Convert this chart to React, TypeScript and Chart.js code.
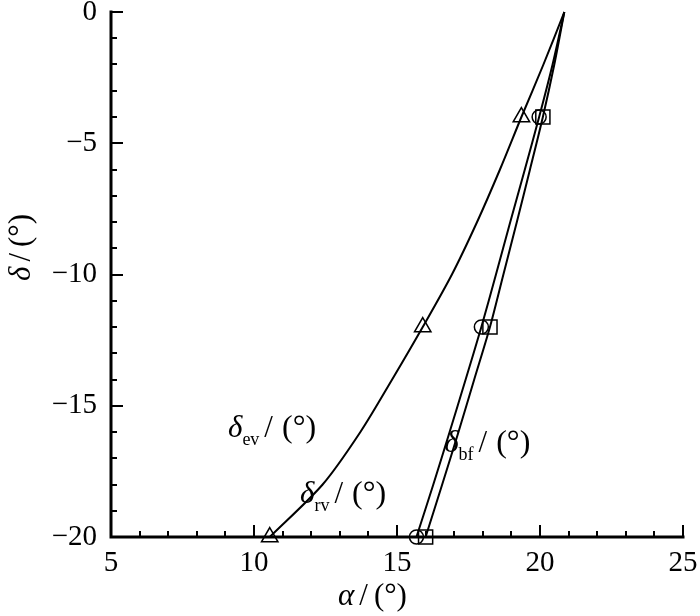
import React, { useEffect, useRef } from "react";
import { Chart, registerables } from "chart.js";

Chart.register(...registerables);

// δ levels (y) at which each curve is sampled
const deltaLevels = [0, -2, -4, -6, -8, -10, -12, -14, -16, -18, -20];
// α values (x) of each curve at those levels
const alphaEv = [20.85, 20.12, 19.35, 18.6, 17.8, 16.92, 15.9, 14.83, 13.72, 12.4, 10.55];
const alphaBf = [20.85, 20.44, 19.97, 19.47, 18.96, 18.46, 17.95, 17.4, 16.84, 16.27, 15.68];
const alphaRv = [20.85, 20.5, 20.1, 19.65, 19.19, 18.72, 18.25, 17.7, 17.15, 16.58, 16.0];
// δ levels where markers are drawn
const markerLevels = [-4, -12, -20];

const xMin = 5;
const xMax = 25;
const yMin = -20;
const yMax = 0;
const majorStep = 5;
const minorStep = 1;

// in-plot curve labels (data coordinates of the start of the δ glyph baseline)
const curveLabels = [
  { sub: "ev", x: 9.09, y: -16.19 },
  { sub: "rv", x: 11.61, y: -18.7 },
  { sub: "bf", x: 16.65, y: -16.76 },
];

const SERIF = "'Liberation Serif', 'DejaVu Serif', serif";

type Part = { text: string; font: string; dy?: number; gap?: number };

function drawParts(ctx: CanvasRenderingContext2D, x: number, y: number, parts: Part[]) {
  let cx = x;
  for (const p of parts) {
    cx += p.gap || 0;
    ctx.font = p.font;
    ctx.fillText(p.text, cx, y + (p.dy || 0));
    cx += ctx.measureText(p.text).width;
  }
}

const decorPlugin = {
  id: "decor",
  afterDatasetsDraw(chart: any) {
    const { ctx, chartArea: a, scales } = chart;
    const xs = scales.x;
    const ys = scales.y;
    ctx.save();
    ctx.strokeStyle = "#000";
    ctx.fillStyle = "#000";
    // spines
    ctx.lineWidth = 3;
    ctx.lineCap = "square";
    ctx.beginPath();
    ctx.moveTo(a.left, a.top);
    ctx.lineTo(a.left, a.bottom);
    ctx.lineTo(a.right, a.bottom);
    ctx.stroke();
    // inward ticks
    ctx.lineCap = "butt";
    ctx.lineWidth = 2;
    for (let v = xs.min; v <= xs.max + 1e-9; v += minorStep) {
      const len = Math.abs(v % majorStep) < 1e-9 ? 12 : 6;
      const px = Math.round(xs.getPixelForValue(v));
      ctx.beginPath();
      ctx.moveTo(px, a.bottom);
      ctx.lineTo(px, a.bottom - len);
      ctx.stroke();
    }
    for (let v = ys.min; v <= ys.max + 1e-9; v += minorStep) {
      const len = Math.abs(v % majorStep) < 1e-9 ? 12 : 6;
      const py = Math.round(ys.getPixelForValue(v));
      ctx.beginPath();
      ctx.moveTo(a.left, py);
      ctx.lineTo(a.left + len, py);
      ctx.stroke();
    }

    ctx.textBaseline = "alphabetic";
    ctx.textAlign = "left";
    // curve labels
    for (const l of curveLabels) {
      const px = xs.getPixelForValue(l.x);
      const py = ys.getPixelForValue(l.y);
      drawParts(ctx, px, py, [
        { text: "δ", font: `italic 31px ${SERIF}` },
        { text: l.sub, font: `18px ${SERIF}`, dy: 8, gap: 0 },
        { text: "/", font: `31px ${SERIF}`, gap: 5 },
        { text: "(°)", font: `32px ${SERIF}`, gap: 9 },
      ]);
    }

    // x axis title
    drawParts(ctx, 338, 605, [
      { text: "α", font: `italic 31px ${SERIF}` },
      { text: "/", font: `31px ${SERIF}`, gap: 5 },
      { text: "(°)", font: `31px ${SERIF}`, gap: 6 },
    ]);

    // y axis title (rotated)
    ctx.save();
    ctx.translate(30, 281);
    ctx.rotate(-Math.PI / 2);
    drawParts(ctx, 0, 0, [
      { text: "δ", font: `italic 31px ${SERIF}` },
      { text: "/", font: `31px ${SERIF}`, gap: 5 },
      { text: "(°)", font: `31px ${SERIF}`, gap: 6 },
    ]);
    ctx.restore();
    ctx.restore();
  },
};

function makeSeries(label: string, alphas: number[], style: string, radius: number) {
  return {
    label,
    data: deltaLevels.map((d, i) => ({ x: alphas[i], y: d })),
    showLine: true,
    tension: 0.3,
    borderColor: "#000",
    borderWidth: 2,
    pointStyle: style,
    pointRadius: deltaLevels.map((d) => (markerLevels.includes(d) ? radius : 0)),
    pointHoverRadius: 0,
    pointBackgroundColor: "rgba(0,0,0,0)",
    pointBorderColor: "#000",
    pointBorderWidth: 1.5,
    clip: false as any,
  };
}

export default function App() {
  const ref = useRef<HTMLCanvasElement | null>(null);
  useEffect(() => {
    if (!ref.current) return;
    const tickFont = { family: SERIF, size: 29 };
    const chart = new Chart(ref.current, {
      type: "scatter",
      data: {
        datasets: [
          makeSeries("δev", alphaEv, "triangle", 9.5),
          makeSeries("δbf", alphaBf, "circle", 7),
          makeSeries("δrv", alphaRv, "rect", 10),
        ] as any,
      },
      options: {
        animation: false,
        responsive: false,
        maintainAspectRatio: false,
        layout: { padding: { top: 12, right: 17, left: 0, bottom: 0 } },
        plugins: { legend: { display: false }, tooltip: { enabled: false } },
        scales: {
          x: {
            type: "linear",
            min: xMin,
            max: xMax,
            grid: { display: false, drawTicks: false },
            border: { display: false },
            afterFit: (s: any) => {
              s.height = 79;
              s.paddingLeft = 0;
              s.paddingRight = 0;
            },
            ticks: {
              stepSize: majorStep,
              font: tickFont,
              color: "#000",
              padding: 9,
              maxRotation: 0,
              autoSkip: false,
            },
          },
          y: {
            type: "linear",
            min: yMin,
            max: yMax,
            grid: { display: false, drawTicks: false },
            border: { display: false },
            afterFit: (s: any) => {
              s.width = 111;
              s.paddingTop = 0;
              s.paddingBottom = 0;
            },
            ticks: {
              stepSize: majorStep,
              font: tickFont,
              color: "#000",
              padding: 14,
              callback: (v: any) => (Number(v) < 0 ? "−" + Math.abs(Number(v)) : String(v)),
            },
          },
        },
      },
      plugins: [decorPlugin],
    });
    return () => chart.destroy();
  }, []);
  return (
    <div style={{ position: "fixed", left: 0, top: 0, width: 700, height: 616, background: "#fff" }}>
      <canvas ref={ref} width={700} height={616} style={{ display: "block" }} />
    </div>
  );
}
